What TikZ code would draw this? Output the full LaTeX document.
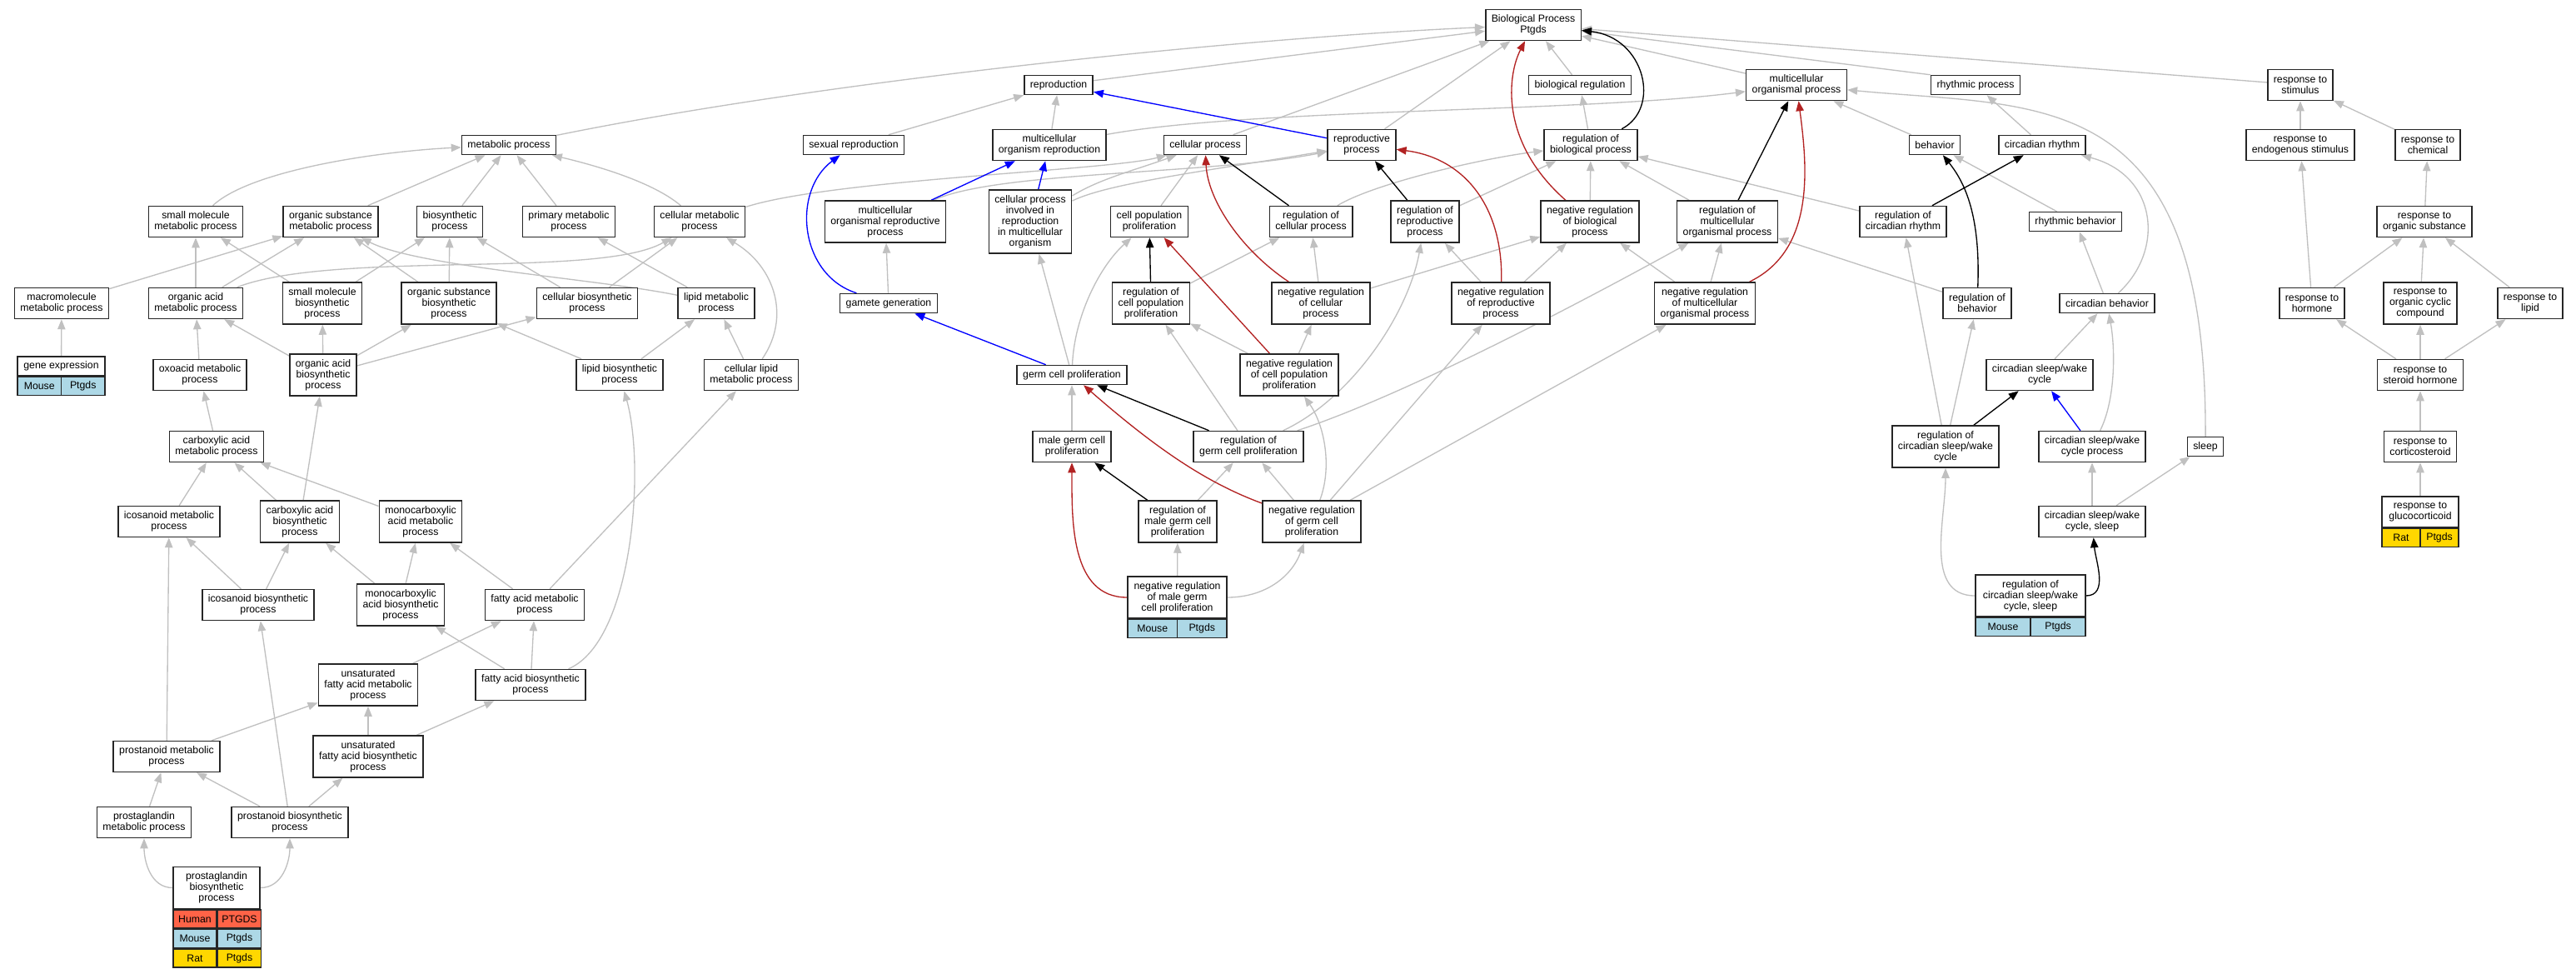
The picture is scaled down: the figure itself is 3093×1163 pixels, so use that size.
\documentclass[tikz,border=0pt]{standalone}
\usepackage{fontspec}
\setmainfont{Liberation Sans}
\usetikzlibrary{arrows.meta,backgrounds}
\definecolor{edgegray}{RGB}{192,192,192}
\definecolor{negred}{RGB}{178,34,34}
\definecolor{mousecol}{RGB}{173,216,230}
\definecolor{humancol}{RGB}{255,99,71}
\definecolor{ratcol}{RGB}{255,215,0}
\newcommand\gofont{\fontsize{10.5}{11.1}\selectfont}

\begin{document}
\begin{tikzpicture}[
    x=0.3mm, y=-0.3mm,
    term/.style={rectangle, draw=black!85, line width=0.45mm, fill=white, align=center, inner xsep=2.1mm, inner ysep=0.5mm, font=\gofont},
    lone/.style={term, minimum height=6.9mm},
    ltwo/.style={term, minimum height=11.1mm},
    lthree/.style={term, minimum height=15mm},
    lfive/.style={term, minimum height=22.8mm},
    cell/.style={rectangle, draw=black!85, line width=0.45mm, minimum height=6.6mm, inner sep=0pt, font=\gofont},
    isa/.style={draw=edgegray, line width=0.4mm, -{Triangle[length=3.6mm,width=2.8mm]}},
    reg/.style={isa, draw=black},
    negreg/.style={isa, draw=negred},
    partof/.style={isa, draw=blue}
]
\useasboundingbox (0,0) rectangle (3093,1163);

% Define terms
\node[ltwo] (bp) at (1841,30) {Biological Process\\Ptgds};

\node[lone] (repro) at (1271,102) {reproduction};
\node[lone] (bioreg) at (1897,102) {biological regulation};
\node[ltwo] (mop) at (2157,102) {multicellular\\organismal process};
\node[lone] (rhyp) at (2372,102) {rhythmic process};
\node[ltwo] (rstim) at (2762,102) {response to\\stimulus};

\node[lone] (metab) at (611,174) {metabolic process};
\node[lone] (sexrep) at (1025,174) {sexual reproduction};
\node[ltwo] (mor) at (1260,174) {multicellular\\organism reproduction};
\node[lone] (cellp) at (1447,174) {cellular process};
\node[ltwo] (reprop) at (1635,174) {reproductive\\process};
\node[ltwo] (rbp) at (1910,174) {regulation of\\biological process};
\node[lone] (behav) at (2323,174) {behavior};
\node[lone] (circr) at (2452,174) {circadian rhythm};
\node[ltwo] (rendo) at (2762,174) {response to\\endogenous stimulus};
\node[ltwo] (rchem) at (2915,174) {response to\\chemical};

\node[ltwo] (smmp) at (235,266) {small molecule\\metabolic process};
\node[ltwo] (osmp) at (397,266) {organic substance\\metabolic process};
\node[ltwo] (biosyn) at (540,266) {biosynthetic\\process};
\node[ltwo] (primp) at (683,266) {primary metabolic\\process};
\node[ltwo] (cellmp) at (840,266) {cellular metabolic\\process};
\node[lthree] (morp) at (1063,266) {multicellular\\organismal reproductive\\process};
\node[lfive] (cpir) at (1237,266) {cellular process\\involved in\\reproduction\\in multicellular\\organism};
\node[ltwo] (cpp) at (1380,266) {cell population\\proliferation};
\node[ltwo] (rcp) at (1574,266) {regulation of\\cellular process};
\node[lthree] (rrp) at (1711,266) {regulation of\\reproductive\\process};
\node[lthree] (nrbp) at (1909,266) {negative regulation\\of biological\\process};
\node[lthree] (rmop) at (2074,266) {regulation of\\multicellular\\organismal process};
\node[ltwo] (rcr) at (2285,266) {regulation of\\circadian rhythm};
\node[lone] (rhyb) at (2492,266) {rhythmic behavior};
\node[ltwo] (rorg) at (2911,266) {response to\\organic substance};

\node[ltwo] (macro) at (74,364) {macromolecule\\metabolic process};
\node[ltwo] (oamp) at (235,364) {organic acid\\metabolic process};
\node[lthree] (smbp) at (387,364) {small molecule\\biosynthetic\\process};
\node[lthree] (osbp) at (539,364) {organic substance\\biosynthetic\\process};
\node[ltwo] (cbp) at (705,364) {cellular biosynthetic\\process};
\node[ltwo] (lipm) at (860,364) {lipid metabolic\\process};
\node[lone] (gamete) at (1067,364) {gamete generation};
\node[lthree] (rcpp) at (1382,364) {regulation of\\cell population\\proliferation};
\node[lthree] (nrcp) at (1586,364) {negative regulation\\of cellular\\process};
\node[lthree] (nrrp) at (1802,364) {negative regulation\\of reproductive\\process};
\node[lthree] (nrmop) at (2047,364) {negative regulation\\of multicellular\\organismal process};
\node[ltwo] (rbeh) at (2374,364) {regulation of\\behavior};
\node[lone] (circb) at (2530,364) {circadian behavior};
\node[ltwo] (rhorm) at (2776,364) {response to\\hormone};
\node[lthree] (rocc) at (2906,364) {response to\\organic cyclic\\compound};
\node[ltwo] (rlip) at (3038,364) {response to\\lipid};

\node[lone, minimum width=31.5mm] (gene) at (73.5,439.5) {gene expression};
\node[cell, fill=mousecol, minimum width=15.75mm, anchor=north west] (geneM) at (gene.south west) {Mouse};
\node[cell, fill=mousecol, minimum width=15.75mm, anchor=north east] (geneG) at (gene.south east) {Ptgds};
\node[ltwo] (oxo) at (240,450) {oxoacid metabolic\\process};
\node[lthree] (oabp) at (388,450) {organic acid\\biosynthetic\\process};
\node[ltwo] (lipb) at (744,450) {lipid biosynthetic\\process};
\node[ltwo] (clm) at (902,450) {cellular lipid\\metabolic process};
\node[lone] (gcp) at (1287,450) {germ cell proliferation};
\node[lthree] (nrcpp) at (1548,450) {negative regulation\\of cell population\\proliferation};
\node[ltwo] (csw) at (2449,450) {circadian sleep/wake\\cycle};
\node[ltwo] (rster) at (2906,450) {response to\\steroid hormone};

\node[ltwo] (cam) at (260,536) {carboxylic acid\\metabolic process};
\node[ltwo] (mgcp) at (1287,536) {male germ cell\\proliferation};
\node[ltwo] (rgcp) at (1499,536) {regulation of\\germ cell proliferation};
\node[lthree] (rcsw) at (2336,536) {regulation of\\circadian sleep/wake\\cycle};
\node[ltwo] (cswp) at (2512,536) {circadian sleep/wake\\cycle process};
\node[lone] (sleep) at (2648,536) {sleep};
\node[ltwo] (rcort) at (2906,536) {response to\\corticosteroid};

\node[ltwo] (icm) at (203,626) {icosanoid metabolic\\process};
\node[lthree] (cab) at (360,626) {carboxylic acid\\biosynthetic\\process};
\node[lthree] (mcam) at (505,626) {monocarboxylic\\acid metabolic\\process};
\node[lthree] (rmgcp) at (1414,626) {regulation of\\male germ cell\\proliferation};
\node[lthree] (nrgcp) at (1575,626) {negative regulation\\of germ cell\\proliferation};
\node[ltwo] (cswsl) at (2512,626) {circadian sleep/wake\\cycle, sleep};
\node[ltwo, minimum width=27.6mm] (rgluc) at (2906,614.5) {response to\\glucocorticoid};
\node[cell, fill=ratcol, minimum width=13.8mm, anchor=north west] (rglucR) at (rgluc.south west) {Rat};
\node[cell, fill=ratcol, minimum width=13.8mm, anchor=north east] (rglucG) at (rgluc.south east) {Ptgds};

\node[ltwo] (icb) at (310,726) {icosanoid biosynthetic\\process};
\node[lthree] (mcab) at (481,726) {monocarboxylic\\acid biosynthetic\\process};
\node[ltwo] (fam) at (642,726) {fatty acid metabolic\\process};
\node[lthree, minimum width=35.7mm] (nrmgcp) at (1413.5,717) {negative regulation\\of male germ\\cell proliferation};
\node[cell, fill=mousecol, minimum width=17.85mm, anchor=north west] (nrmgcpM) at (nrmgcp.south west) {Mouse};
\node[cell, fill=mousecol, minimum width=17.85mm, anchor=north east] (nrmgcpG) at (nrmgcp.south east) {Ptgds};
\node[lthree, minimum width=39.6mm] (rcsws) at (2438,715) {regulation of\\circadian sleep/wake\\cycle, sleep};
\node[cell, fill=mousecol, minimum width=19.8mm, anchor=north west] (rcswsM) at (rcsws.south west) {Mouse};
\node[cell, fill=mousecol, minimum width=19.8mm, anchor=north east] (rcswsG) at (rcsws.south east) {Ptgds};

\node[lthree] (ufam) at (442,822) {unsaturated\\fatty acid metabolic\\process};
\node[ltwo] (fab) at (637,822) {fatty acid biosynthetic\\process};

\node[ltwo] (prm) at (200,908) {prostanoid metabolic\\process};
\node[lthree] (ufab) at (442,908) {unsaturated\\fatty acid biosynthetic\\process};

\node[ltwo] (pgm) at (173,987) {prostaglandin\\metabolic process};
\node[ltwo] (prb) at (348,987) {prostanoid biosynthetic\\process};

\node[lthree, minimum width=31.2mm] (pgb) at (260,1065.5) {prostaglandin\\biosynthetic\\process};
\node[cell, fill=humancol, minimum width=15.6mm, anchor=north west] (pgbH) at (pgb.south west) {Human};
\node[cell, fill=humancol, minimum width=15.6mm, anchor=north west] (pgbHG) at (pgbH.north east) {PTGDS};
\node[cell, fill=mousecol, minimum width=15.6mm, anchor=north west] (pgbM) at (pgbH.south west) {Mouse};
\node[cell, fill=mousecol, minimum width=15.6mm, anchor=north west] (pgbMG) at (pgbM.north east) {Ptgds};
\node[cell, fill=ratcol, minimum width=15.6mm, anchor=north west] (pgbR) at (pgbM.south west) {Rat};
\node[cell, fill=ratcol, minimum width=15.6mm, anchor=north west] (pgbRG) at (pgbR.north east) {Ptgds};

\begin{scope}[on background layer]
% Draw is_a edges
\foreach \u/\v in {repro/bp, cellp/bp, reprop/bp, bioreg/bp, mop/bp, rstim/bp,
    sexrep/repro, mor/repro, osmp/metab, biosyn/metab, primp/metab,
    macro/osmp, oamp/smmp, oamp/osmp, smbp/smmp, smbp/biosyn, osbp/osmp, osbp/biosyn,
    cbp/biosyn, cbp/cellmp, lipm/primp, gene/macro, oxo/oamp, oabp/oamp, oabp/smbp,
    oabp/osbp, oabp/cbp, lipb/osbp, lipb/lipm, clm/lipm, cam/oxo, icm/cam, cab/cam,
    cab/oabp, mcam/cam, icb/icm, icb/cab, mcab/cab, mcab/mcam, fam/mcam, fam/clm,
    ufam/fam, fab/mcab, fab/fam, prm/icm, prm/ufam, ufab/ufam, ufab/fab, pgm/prm,
    prb/prm, prb/icb, prb/ufab, gamete/morp, gcp/cpir, cpp/cellp, rcpp/rcp,
    nrcpp/rcpp, nrcpp/nrcp, nrcp/rcp, nrcp/nrbp, rrp/rbp, nrrp/rrp, nrrp/nrbp,
    nrbp/rbp, rmop/rbp, nrmop/rmop, nrmop/nrbp, rbp/bioreg, mgcp/gcp, rgcp/rcpp,
    nrgcp/rgcp, nrgcp/nrrp, nrgcp/nrmop, rmgcp/rgcp, nrmgcp/rmgcp, behav/mop,
    circr/rhyp, rcr/rbp, rhyb/behav, rbeh/rmop, circb/rhyb, rendo/rstim, rchem/rstim,
    rorg/rchem, rhorm/rendo, rhorm/rorg, rocc/rorg, rlip/rorg, rster/rhorm,
    rster/rocc, rster/rlip, rcort/rster, rgluc/rcort, csw/circb, rcsw/rcr,
    rcsw/rbeh, cswsl/cswp, cswsl/sleep} {
    \draw[isa] (\u) -- (\v);
}
\draw[isa] (rhyp.north west) -- (bp);
\draw[isa] (metab) .. controls (1000,95) and (1500,45) .. (bp);
\draw[isa] (smmp) .. controls (300,205) and (450,182) .. (metab);
\draw[isa] (cellmp) .. controls (780,215) and (700,195) .. (metab);
\draw[isa] (mor) .. controls (1500,130) and (1900,135) .. (mop);
\draw[isa] (cellmp) .. controls (1000,215) and (1330,205) .. (cellp);
\draw[isa] (oamp) .. controls (400,300) and (720,335) .. (cellmp);
\draw[isa] (lipm) .. controls (720,335) and (500,320) .. (osmp);
\draw[isa] (clm) .. controls (950,380) and (930,320) .. (cellmp);
\draw[isa] (fab) .. controls (760,770) and (775,560) .. (lipb);
\draw[isa] (pgb.west) to[out=180, in=-90] (pgm);
\draw[isa] (pgb.east) to[out=0, in=-90] (prb);
\draw[isa] (morp) .. controls (1200,205) and (1450,210) .. (reprop);
\draw[isa] (cpir) .. controls (1320,215) and (1360,205) .. (cellp);
\draw[isa] (cpir) .. controls (1330,220) and (1450,205) .. (reprop);
\draw[isa] (gcp) .. controls (1290,380) and (1320,320) .. (cpp);
\draw[isa] (rcp) .. controls (1650,220) and (1780,190) .. (rbp);
\draw[isa] (rgcp) .. controls (1620,480) and (1690,380) .. (rrp);
\draw[isa] (rgcp) .. controls (1700,470) and (1940,340) .. (rmop);
\draw[isa] (nrgcp) .. controls (1600,560) and (1590,510) .. (nrcpp);
\draw[isa] (nrmgcp.east) to[out=0, in=-110] (nrgcp);
\draw[isa] (sleep) .. controls (2650,100) and (2450,130) .. (mop);
\draw[isa] (circb) .. controls (2600,300) and (2590,210) .. (circr);
\draw[isa] (cswp) .. controls (2540,480) and (2540,420) .. (circb);
\draw[isa] (rcsws.west) to[out=180, in=-90] (rcsw);

% Draw regulates edges
\foreach \u/\v in {rcp/cellp, rcpp/cpp, rrp/reprop, rmop/mop, rcr/circr, rgcp/gcp, rmgcp/mgcp, rcsw/csw} {
    \draw[reg] (\u) -- (\v);
}
\draw[reg] (rbp) .. controls (1995,130) and (1975,45) .. (bp);
\draw[reg] (rbeh) .. controls (2378,260) and (2360,220) .. (behav);
\draw[reg] (rcsws.east) to[out=0, in=-85] (cswsl);

% Draw negatively regulates edges
\draw[negreg] (nrcpp) -- (cpp);
\draw[negreg] (nrbp) .. controls (1800,170) and (1810,90) .. (bp);
\draw[negreg] (nrcp) .. controls (1490,300) and (1450,240) .. (cellp);
\draw[negreg] (nrrp) .. controls (1805,250) and (1760,190) .. (reprop);
\draw[negreg] (nrmop) .. controls (2180,300) and (2170,200) .. (mop);
\draw[negreg] (nrgcp) .. controls (1450,580) and (1390,540) .. (gcp);
\draw[negreg] (nrmgcp.west) to[out=180, in=-90] (mgcp);

% Draw part_of edges
\foreach \u/\v in {reprop/repro, morp/mor, cpir/mor, gcp/gamete, cswp/csw} {
    \draw[partof] (\u) -- (\v);
}
\draw[partof] (gamete) .. controls (960,330) and (950,230) .. (sexrep);
\end{scope}

\end{tikzpicture}
\end{document}
